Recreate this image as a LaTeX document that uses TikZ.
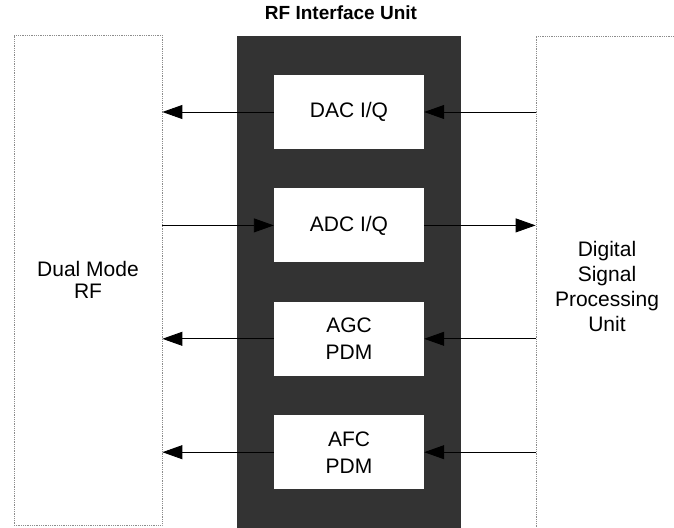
\documentclass[tikz,border=0pt]{standalone}
\usepackage{fontspec}
\setmainfont{Liberation Sans}
\usetikzlibrary{arrows.meta, positioning}

\begin{document}
\begin{tikzpicture}[
        x=1pt, y=-1pt,
        node distance=39pt,
        unit/.style={rectangle, draw=gray!90, densely dotted, line width=0.8pt, align=center, font=\fontsize{21}{25}\selectfont},
        block/.style={rectangle, fill=white, minimum width=150pt, minimum height=74pt, inner sep=0pt, align=center, font=\fontsize{21}{27}\selectfont},
        arrow/.style={line width=0.9pt, -{Triangle[length=20pt,width=14pt]}}
    ]
    \clip (0,0) rectangle (674,527);

    % Outer units
    \node[unit, minimum width=148pt, minimum height=490pt, font=\fontsize{21}{22}\selectfont] (rf) at (88,280) {Dual Mode\\RF};
    \node[unit, minimum width=142pt, minimum height=500pt] (dsp) at (607,286) {Digital\\Signal\\Processing\\Unit};

    % RF interface unit
    \node[fill=black!80, minimum width=224pt, minimum height=500pt, inner sep=0pt] (riu) at (349,286) {};
    \node[font=\fontsize{19}{22}\selectfont\bfseries] (title) at (341,13) {RF Interface Unit};

    \node[block] (dac) at (349,112) {DAC I/Q};
    \node[block, below=of dac] (adc) {ADC I/Q};
    \node[block, below=of adc] (agc) {AGC\\PDM};
    \node[block, below=of agc] (afc) {AFC\\PDM};

    % Connections - to Dual Mode RF
    \draw[arrow] (dac.west) -- (rf.east |- dac.west);
    \draw[arrow] (rf.east |- adc.west) -- (adc.west);
    \draw[arrow] (agc.west) -- (rf.east |- agc.west);
    \draw[arrow] (afc.west) -- (rf.east |- afc.west);

    % Connections - to DSP unit
    \draw[arrow] (dsp.west |- dac.east) -- (dac.east);
    \draw[arrow] (adc.east) -- (dsp.west |- adc.east);
    \draw[arrow] (dsp.west |- agc.east) -- (agc.east);
    \draw[arrow] (dsp.west |- afc.east) -- (afc.east);

\end{tikzpicture}
\end{document}
